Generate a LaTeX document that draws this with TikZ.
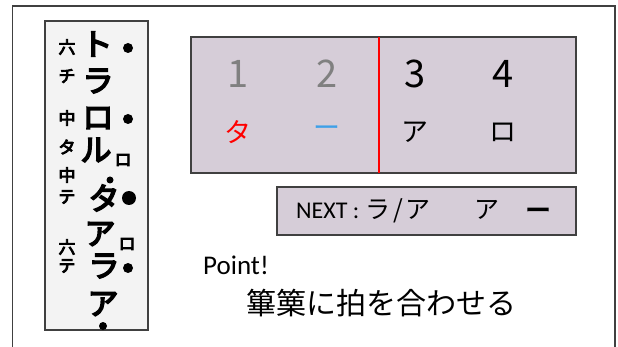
\documentclass[tikz,border=0pt]{standalone}
\usepackage{fontspec}
\setmainfont{Carlito}
\newfontfamily\jp{Noto Sans CJK JP}
\newfontfamily\brush[FakeBold=5]{Noto Sans CJK JP}
\definecolor{panel}{RGB}{214,205,216}
\definecolor{scrollbg}{RGB}{243,243,243}
\definecolor{edge}{RGB}{64,64,64}
\definecolor{blueish}{RGB}{62,160,232}
\tikzset{
  box/.style={draw=edge, line width=1.2pt},
  big/.style={font=\brush\fontsize{31}{31}\selectfont, inner sep=0pt},
  small/.style={font=\brush\fontsize{17}{17}\selectfont, inner sep=0pt},
  bdot/.style={circle, fill=black, inner sep=0pt, minimum size=#1},
  digit/.style={font=\jp\fontsize{38}{38}\selectfont, inner sep=0pt},
  kana/.style={font=\jp\fontsize{27}{27}\selectfont, inner sep=0pt},
  nexttxt/.style={font=\jp\fontsize{25}{25}\selectfont, inner sep=0pt, anchor=base},
}
\begin{document}
\begin{tikzpicture}[x=1pt,y=-1pt]
\useasboundingbox (0,0) rectangle (618,347);
% outer frame (open at bottom)
\draw[edge, line width=1.3pt] (12.5,347) -- (12.5,6) -- (615,6) -- (615,347);
% scroll picture
\node[box, fill=scrollbg, minimum width=103pt, minimum height=309pt, inner sep=0pt] (scroll) at (96.5,175.5) {};
\node[small] (c1) at (67,47) {六};
\node[big] (m1) at (97,44) {ト};
\node[bdot=10pt] (d1) at (128,48) {};
\node[small] (c2) at (67,76) {チ};
\node[big] (m2) at (98,81) {ラ};
\node[small] (c3) at (67,118) {中};
\node[big] (m3) at (98,118) {ロ};
\node[bdot=10pt] (d3) at (128,119) {};
\node[small] (c4) at (67,147) {タ};
\node[big] (m4) at (96,150) {ル};
\node[small] (s4) at (123,160) {ロ};
\node[small] (c5) at (67,175) {中};
\node[bdot=7pt] (d5) at (110,180) {};
\node[small] (c6) at (67,197) {テ};
\node[big] (m6) at (104,198) {タ};
\node[bdot=14pt] (d6) at (129,198) {};
\node[big] (m7) at (100,234) {ア};
\node[small] (s7) at (127,244) {ロ};
\node[small] (c7) at (67,247) {六};
\node[small] (c8) at (67,266) {テ};
\node[big] (m8) at (104,266) {ラ};
\node[bdot=10pt] (d8) at (128,268) {};
\node[big] (m9) at (103,304) {ア};
\node[bdot=8pt] (d9) at (103,326) {};
% top panel
\node[box, fill=panel, minimum width=385pt, minimum height=136pt, inner sep=0pt] (panel) at (383.5,105) {};
\coordinate (rt) at (379,37);
\coordinate (rb) at (379,173);
\draw[red, line width=1.8pt] (rt) -- (rb);
\node[digit, text=gray] (n1) at (238,74) {1};
\node[digit, text=gray] (n2) at (327,74) {2};
\node[digit] (n3) at (415,74) {3};
\node[digit] (n4) at (503,74) {4};
\node[kana, text=red] (k1) at (238,132) {タ};
\node[kana, text=blueish] (k2) at (327,132) {ー};
\node[kana] (k3) at (415,132) {ア};
\node[kana] (k4) at (503,132) {ロ};
% next panel
\node[box, fill=panel, minimum width=299pt, minimum height=48pt, inner sep=0pt] (next) at (426.5,211) {};
\node[font=\fontsize{24}{24}\selectfont, inner sep=0pt, anchor=base west] (nx) at (296,219) {NEXT :};
\node[nexttxt] (nr) at (378,219) {ラ};
\node[nexttxt] (ns) at (398,219) {/};
\node[nexttxt] (na1) at (418,219) {ア};
\node[nexttxt] (na2) at (487,219) {ア};
\node[font=\brush\fontsize{25}{25}\selectfont, inner sep=0pt, anchor=base] (nb) at (538,219) {ー};
% point text
\node[font=\fontsize{27}{27}\selectfont, inner sep=0pt, anchor=base west] (pt) at (203,274) {Point!};
\node[font=\jp\fontsize{30}{30}\selectfont, inner sep=0pt, anchor=west] (msg) at (246,303) {篳篥に拍を合わせる};
\end{tikzpicture}
\end{document}
